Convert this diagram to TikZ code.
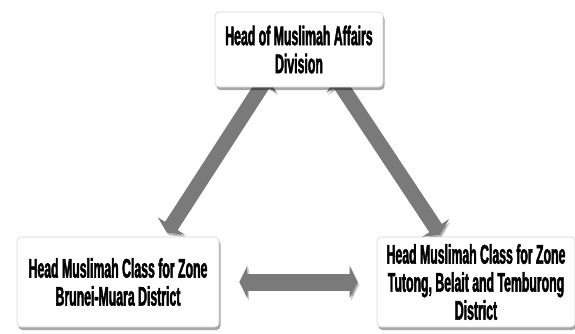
\documentclass[tikz,border=0pt]{standalone}
\usepackage{fontspec}
\usepackage{tikz}
\usetikzlibrary{arrows.meta, positioning, calc, shadows, backgrounds}
\newfontfamily\boxfont{Liberation Sans}[FakeStretch=0.455, FakeBold=1.6]
\definecolor{arrowgray}{HTML}{7A7A7A}
\definecolor{boxline}{HTML}{D4D4D4}

\begin{document}
\begin{tikzpicture}[x=1pt, y=-1pt,
    unitbox/.style={draw=boxline, line width=0.6pt, rounded corners=4pt, fill=white,
        align=center, inner sep=2pt,
        font=\boxfont\bfseries\fontsize{27}{28}\selectfont,
        drop shadow={shadow xshift=1.5pt, shadow yshift=-3pt, opacity=0.35, fill=black}},
    link/.style={line width=#1, arrowgray,
        preaction={draw=black, opacity=0.2, transform canvas={xshift=1.5pt, yshift=-2.5pt}},
        {Triangle[length=8pt, width=32pt]}-{Triangle[length=8pt, width=32pt]}},
    link/.default=15pt]
    \useasboundingbox (0,0) rectangle (575,333);

    % 部门主管
    \node[unitbox, minimum width=168, minimum height=75] (head) at (299,49.5)
        {Head of Muslimah Affairs\\Division};

    % 两个区域
    \node[unitbox, minimum width=202, minimum height=90] (bm) at (118,282)
        {Head Muslimah Class for Zone\\Brunei-Muara District};
    \node[unitbox, minimum width=198, minimum height=90] (tbt) at (476,282)
        {Head Muslimah Class for Zone\\Tutong, Belait and Temburong\\District};

    % 连线
    \begin{scope}[on background layer]
        \draw[link] ([xshift=-31.5, yshift=10]head.south) -- ([xshift=49, yshift=4]bm.north);
        \draw[link] ([xshift=36.5, yshift=10]head.south) -- ([xshift=-36, yshift=2]tbt.north);
        \draw[link=17pt] ([xshift=20]bm.east) -- ([xshift=-19]tbt.west);
    \end{scope}
\end{tikzpicture}
\end{document}
